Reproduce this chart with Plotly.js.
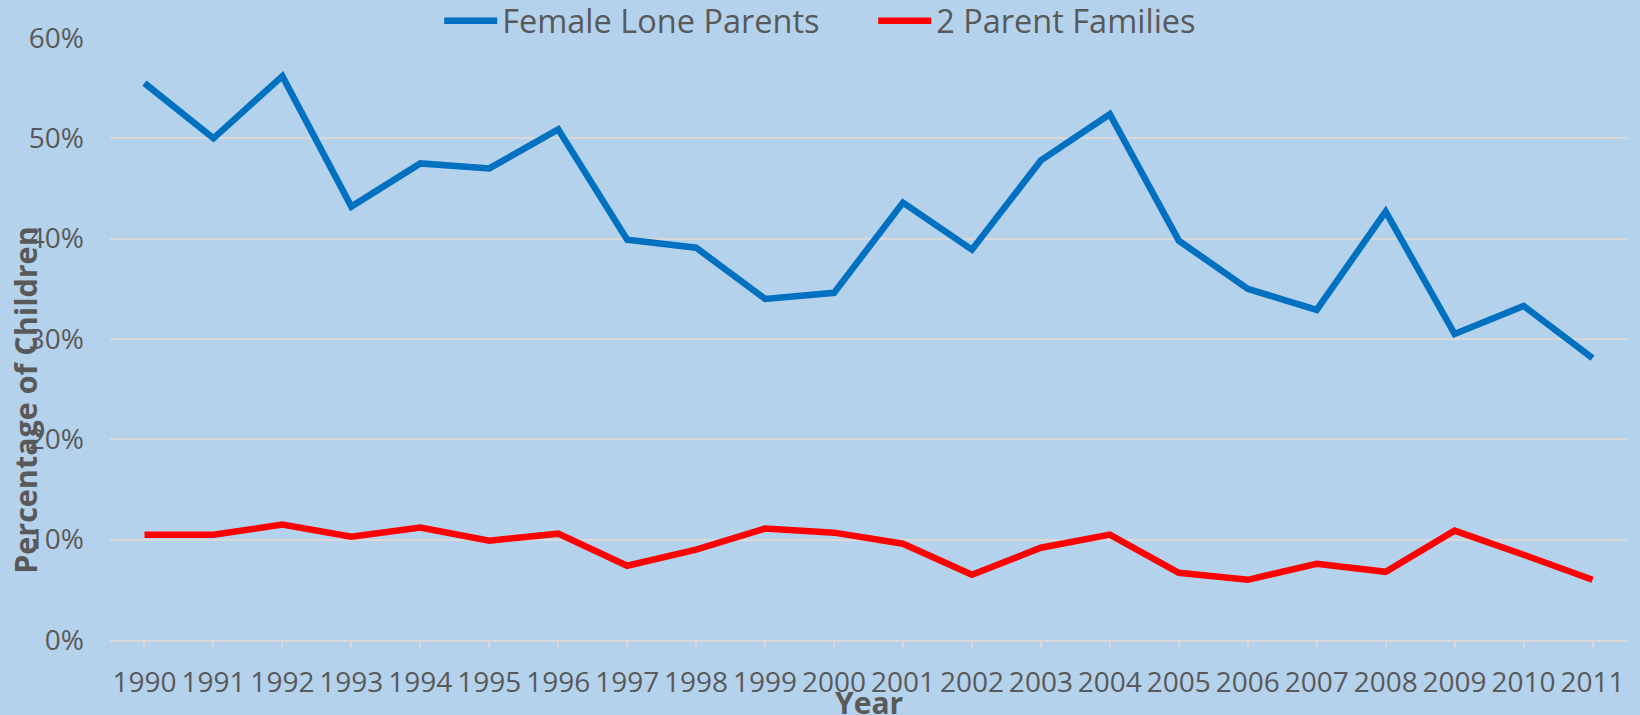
<!DOCTYPE html>
<html>
<head>
<meta charset="utf-8">
<script src="https://cdn.plot.ly/plotly-3.0.1.min.js"></script>
<style>
  html, body { margin: 0; padding: 0; background: #b4d2eb; }
  #chart { width: 1640px; height: 715px; }
</style>
</head>
<body>
<div id="chart"></div>
<script>
const years = ['1990','1991','1992','1993','1994','1995','1996','1997','1998','1999','2000',
               '2001','2002','2003','2004','2005','2006','2007','2008','2009','2010','2011'];
const femaleLoneParents = [55.5, 50.0, 56.2, 43.2, 47.5, 47.0, 50.9, 39.9, 39.1, 34.0, 34.6,
                           43.6, 38.9, 47.8, 52.4, 39.8, 35.0, 32.9, 42.7, 30.5, 33.3, 28.1];
const twoParentFamilies = [10.5, 10.5, 11.5, 10.3, 11.2, 9.9, 10.6, 7.4, 9.0, 11.1, 10.7,
                           9.6, 6.5, 9.2, 10.5, 6.7, 6.0, 7.6, 6.8, 10.9, 8.5, 6.0];
const seriesNames = ['Female Lone Parents', '2 Parent Families'];
const yTitle = 'Percentage of Children';
const xTitle = 'Year';

const textColor = '#595959';
const fontFam = '"Open Sans", "Noto Sans", sans-serif';

const traces = [
  { x: years, y: femaleLoneParents, name: seriesNames[0], type: 'scatter', mode: 'lines',
    line: { color: '#0070c0', width: 6.5, shape: 'linear' }, hoverinfo: 'x+y' },
  { x: years, y: twoParentFamilies, name: seriesNames[1], type: 'scatter', mode: 'lines',
    line: { color: '#ff0000', width: 6.5, shape: 'linear' }, hoverinfo: 'x+y' }
];

const layout = {
  width: 1640, height: 715,
  margin: { l: 110, r: 13, t: 38, b: 75, autoexpand: false },
  paper_bgcolor: '#b4d2eb',
  plot_bgcolor: '#b4d2eb',
  font: { family: fontFam, color: textColor, size: 28 },
  showlegend: true,
  legend: {
    orientation: 'h', x: 0.217, xanchor: 'left', y: 1.028, yanchor: 'middle',
    font: { family: fontFam, size: 32.5, color: textColor },
    bgcolor: 'rgba(0,0,0,0)', itemwidth: 53, entrywidth: 366, entrywidthmode: 'pixels',
    traceorder: 'normal'
  },
  xaxis: {
    type: 'category', range: [-0.5, 21.5],
    showgrid: false, showline: true, linecolor: '#d9d9d9', linewidth: 2,
    ticks: 'outside', ticklen: 7, tickcolor: '#d9d9d9', tickwidth: 2,
    tickfont: { family: fontFam, size: 28, color: textColor },
    ticklabelstandoff: 9, fixedrange: true
  },
  yaxis: {
    range: [0, 60], dtick: 10, tick0: 0, ticksuffix: '%',
    showgrid: true, gridcolor: '#d9d9d9', gridwidth: 2,
    zeroline: false, showline: false, ticks: '',
    tickfont: { family: fontFam, size: 28, color: textColor },
    ticklabelstandoff: 25, fixedrange: true
  },
  annotations: [
    { text: yTitle, xref: 'paper', yref: 'paper', x: -0.056, y: 0.399,
      xanchor: 'center', yanchor: 'middle', textangle: -90, showarrow: false,
      font: { family: fontFam, size: 30.5, color: textColor, weight: 'bold' } },
    { text: xTitle, xref: 'paper', yref: 'paper', x: 0.5, y: -0.103,
      xanchor: 'center', yanchor: 'middle', showarrow: false,
      font: { family: fontFam, size: 30, color: textColor, weight: 'bold' } }
  ]
};

Plotly.newPlot('chart', traces, layout, { displayModeBar: false, staticPlot: true });
</script>
</body>
</html>
